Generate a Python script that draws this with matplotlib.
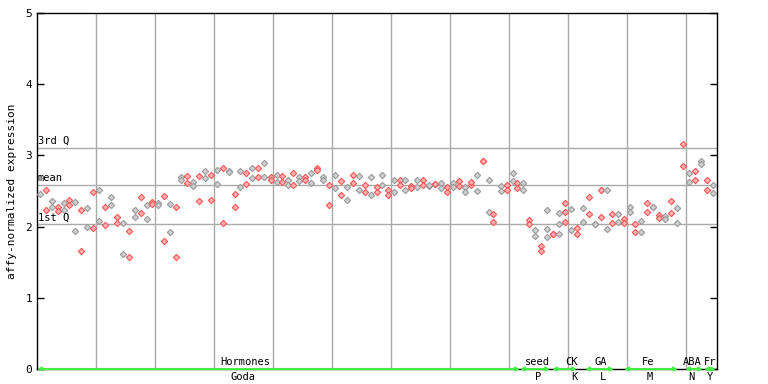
import matplotlib
matplotlib.use("Agg")
import matplotlib.pyplot as plt

# column positions (pixel offset from left axis edge) and values
col_pos = [3, 9, 15, 21, 27, 32.3, 38.3, 44.3, 50.3, 56.3, 62.3, 68.3, 74.3, 80.3, 86.3, 91.7,
           97.7, 103.7, 109.7, 115, 121, 127, 133, 139, 144.3, 150.3, 156.3, 162.3, 168.3, 174.3,
           180.3, 186.3, 192.3, 198.3, 203, 209, 215, 221, 227, 233.7, 239.7, 245.3, 251, 256.3,
           262.3, 268.3, 274.3, 280.3, 286.3, 292.3, 298.3, 304.3, 310.3, 315.7, 321.7, 327.7,
           333.7, 339.7, 345, 351, 357, 363, 368.3, 374.3, 380.3, 386.3, 392.3, 398.3, 404.3,
           410.3, 416.3, 422.3, 427.7, 433.7, 439.7, 445.7, 451.7, 456.3, 463.7, 469.7, 475.7,
           480.3, 486.3, 492.3, 498.3, 504.3, 510.3, 516.3, 522.3, 528.3, 534.3, 539.7, 545.7,
           551.7, 557.7, 563.7, 569.7, 575, 581, 587, 593, 598.3, 604.3, 610.3, 616.3, 622.3,
           628.3, 634.3, 640.3, 646.3, 651.7, 657.7, 663.7, 669.7, 675.7]
col_vals = [[2.46], [2.52, 2.24], [2.355, 2.27], [2.28, 2.22], [2.33, 2.23], [2.38, 2.31],
            [2.345, 1.94], [2.23, 1.657], [2.256, 1.99], [2.48, 1.975], [2.52, 2.08],
            [2.27, 2.02], [2.42, 2.31], [2.135, 2.05], [2.055, 1.615], [1.58, 1.94],
            [2.24, 2.13], [2.42, 2.195], [2.30, 2.10], [2.34, 2.32], [2.33, 2.30],
            [2.43, 1.80], [2.32, 1.92], [2.27, 1.573], [2.69, 2.66], [2.71, 2.61],
            [2.63, 2.57], [2.71, 2.355], [2.78, 2.68], [2.72, 2.37], [2.795, 2.60],
            [2.82, 2.046], [2.785, 2.76], [2.46, 2.27], [2.78, 2.55], [2.75, 2.60],
            [2.82, 2.68], [2.82, 2.69], [2.90, 2.69], [2.69, 2.654], [2.72, 2.63],
            [2.71, 2.62], [2.654, 2.59], [2.75, 2.59], [2.69, 2.64], [2.69, 2.66],
            [2.75, 2.61], [2.83, 2.80], [2.69, 2.654], [2.59, 2.31], [2.72, 2.54],
            [2.64, 2.45], [2.55, 2.38], [2.72, 2.61], [2.71, 2.52], [2.58, 2.48],
            [2.69, 2.45], [2.55, 2.48], [2.72, 2.59], [2.51, 2.45], [2.66, 2.49],
            [2.66, 2.58], [2.65, 2.51], [2.565, 2.54], [2.65, 2.55], [2.66, 2.58],
            [2.565, 2.58], [2.60, 2.60], [2.61, 2.54], [2.48, 2.56], [2.61, 2.55],
            [2.64, 2.57], [2.55, 2.48], [2.59, 2.62], [2.72, 2.495], [2.92, 2.92],
            [2.65, 2.21], [2.17, 2.06], [2.565, 2.495], [2.59, 2.52], [2.75, 2.64],
            [2.61, 2.54], [2.61, 2.51], [2.09, 2.03], [1.95, 1.87], [1.73, 1.66],
            [2.24, 1.96, 1.85], [1.90, 1.90], [2.19, 2.03, 1.90], [2.33, 2.21, 2.06],
            [2.25, 1.95], [1.98, 1.89], [2.26, 2.06], [2.41, 2.17], [2.03, 2.03],
            [2.52, 2.14], [2.51, 1.96], [2.17, 2.046], [2.17, 2.06], [2.10, 2.046],
            [2.27, 2.21], [2.032, 1.92], [2.074, 1.92], [2.33, 2.20], [2.27, 2.27],
            [2.16, 2.116], [2.145, 2.10], [2.355, 2.186], [2.256, 2.046], [3.155, 2.85],
            [2.75, 2.63], [2.78, 2.65], [2.92, 2.88], [2.65, 2.51], [2.59, 2.47]]

q3_val, mean_val, q1_val = 3.10, 2.58, 2.03

groups_top = ["Hormones", "seed", "CK", "GA", "Fe", "ABA", "Fr"]
groups_bottom = ["Goda", "P", "K", "L", "M", "N", "Y"]
group_start = [0, 483, 515, 548, 587, 648, 667]
group_end = [483, 513, 540, 577, 641, 666, 679]
label_pos_top = [208, 500, 535, 564, 611, 655, 673]
label_pos_bottom = [206, 501, 537, 566, 613, 654, 673]
grid_x = [59, 118, 177, 236, 295, 354, 413, 472, 531, 590, 649]
yticks = [0, 1, 2, 3, 4, 5]

mono = "DejaVu Sans Mono"
fig = plt.figure(figsize=(7.68, 3.84), dpi=100)
ax = fig.add_axes([37/768, 15/384, 680/768, 356/384])
ax.set_xlim(0, 680)
ax.set_ylim(0, 5)

for gx in grid_x:
    ax.axvline(gx, color="#aaaaaa", lw=1, zorder=1)
for v in (q3_val, mean_val, q1_val):
    ax.axhline(v, color="#aaaaaa", lw=1, zorder=1)

for i, (x, vals) in enumerate(zip(col_pos, col_vals)):
    if i % 2 == 0:
        fc, ec = "#d0d0d0", "#9a9a9a"
    else:
        fc, ec = "#ffb0b0", "#ff5555"
    ax.plot([x] * len(vals), vals, linestyle="none", marker="D", markersize=3.2,
            markerfacecolor=fc, markeredgecolor=ec, markeredgewidth=0.8, zorder=3)

ax.text(1, q3_val + 0.03, "3rd Q", fontsize=7.5, family=mono, va="bottom", ha="left")
ax.text(1, mean_val + 0.03, "mean", fontsize=7.5, family=mono, va="bottom", ha="left")
ax.text(1, q1_val + 0.03, "1st Q", fontsize=7.5, family=mono, va="bottom", ha="left")

ax.set_yticks(yticks)
ax.set_yticklabels([str(t) for t in yticks], family=mono, fontsize=8)
ax.tick_params(axis="y", direction="in", length=5, right=True, width=1)
ax.set_xticks([])
for s in ax.spines.values():
    s.set_color("black")
    s.set_linewidth(1)
ax.set_ylabel("affy-normalized expression", family=mono, fontsize=8, labelpad=6)

for s, e in zip(group_start, group_end):
    ax.annotate("", xy=(s, 0), xytext=(e, 0),
                arrowprops=dict(arrowstyle="<|-|>", color="#44ee44", lw=1.5,
                                mutation_scale=5, shrinkA=0, shrinkB=0),
                annotation_clip=False, zorder=5)
for lab, x in zip(groups_top, label_pos_top):
    ax.text(x, 0.03, lab, fontsize=7.5, family=mono, ha="center", va="bottom", zorder=6)
for lab, x in zip(groups_bottom, label_pos_bottom):
    ax.text(x, -0.04, lab, fontsize=7.5, family=mono, ha="center", va="top", zorder=6)

fig.savefig("out.png", dpi=100)
